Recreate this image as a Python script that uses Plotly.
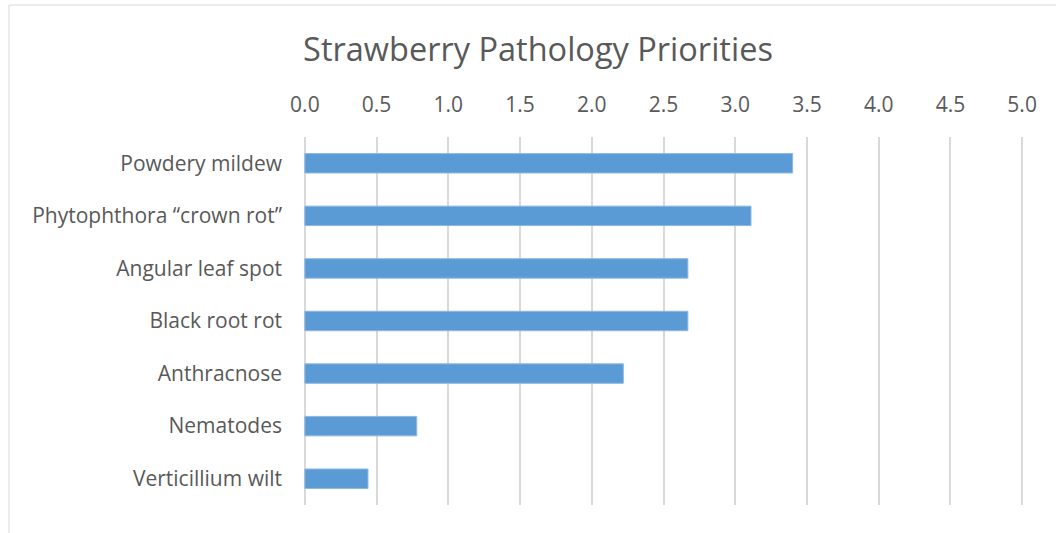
import plotly.graph_objects as go

# Disease names (top to bottom) and their priority scores
diseases = [
    "Powdery mildew",
    "Phytophthora \u201ccrown rot\u201d",
    "Angular leaf spot",
    "Black root rot",
    "Anthracnose",
    "Nematodes",
    "Verticillium wilt",
]
scores = [3.40, 3.11, 2.67, 2.67, 2.22, 0.78, 0.44]

x_ticks = [0.0, 0.5, 1.0, 1.5, 2.0, 2.5, 3.0, 3.5, 4.0, 4.5, 5.0]

W, H = 1056, 533
ML, MR, MT, MB = 302, 31, 137, 28
TEXT = "#595959"
FONT = "Open Sans"

fig = go.Figure(
    go.Bar(
        x=scores,
        y=diseases,
        orientation="h",
        marker=dict(color="#5B9BD5", line=dict(color="#8DB8E3", width=1)),
        width=0.37,
        hoverinfo="x+y",
    )
)

plot_w = W - ML - MR
plot_h = H - MT - MB

fig.update_layout(
    width=W,
    height=H,
    margin=dict(l=ML, r=MR, t=MT, b=MB),
    paper_bgcolor="white",
    plot_bgcolor="white",
    showlegend=False,
    title=dict(
        text="Strawberry Pathology Priorities",
        x=538 / W,
        xanchor="center",
        y=1 - 50 / H,
        yanchor="middle",
        font=dict(family=FONT, size=32.5, color=TEXT),
    ),
    xaxis=dict(
        side="top",
        # small padding so the 0.0 and 5.0 grid lines stay visible
        range=[-0.02, 5.02],
        tickvals=x_ticks,
        ticktext=[f"{v:.1f}" for v in x_ticks],
        showgrid=True,
        gridcolor="#D9D9D9",
        gridwidth=1.5,
        zeroline=False,
        showline=False,
        ticks="",
        ticklabelstandoff=20,
        tickfont=dict(family=FONT, size=21, color=TEXT),
    ),
    yaxis=dict(
        autorange="reversed",
        showgrid=False,
        zeroline=False,
        showline=False,
        ticks="",
        ticklabelstandoff=19,
        tickfont=dict(family=FONT, size=21, color=TEXT),
    ),
    shapes=[
        # light frame around the chart area
        dict(
            type="rect",
            xref="paper",
            yref="paper",
            x0=(9 - ML) / plot_w,
            x1=(W + 20 - ML) / plot_w,
            y0=-(MB + 20) / plot_h,
            y1=1 + (MT - 5) / plot_h,
            line=dict(color="#D9D9D9", width=1),
            fillcolor="rgba(0,0,0,0)",
            layer="below",
        )
    ],
)

fig.write_html("out.html")
